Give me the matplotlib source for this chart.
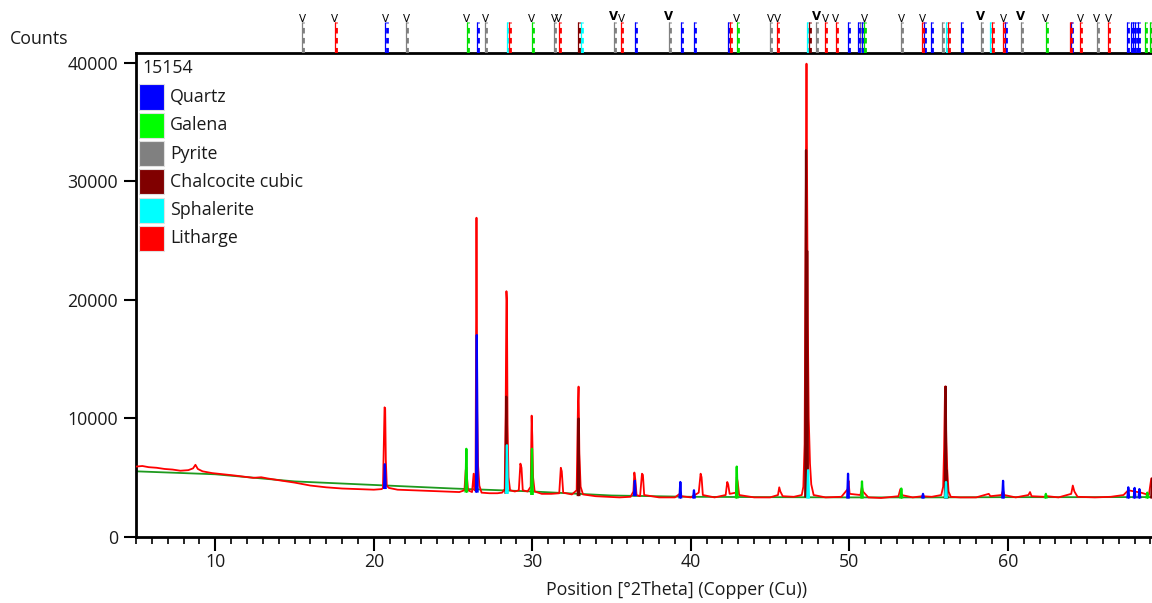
import matplotlib
matplotlib.use('Agg')
import matplotlib.pyplot as plt
from matplotlib.patches import Rectangle
from matplotlib.ticker import MultipleLocator

# ---------------- data ----------------
# measured scan (2theta, counts)
meas_points = [
    (5.0, 5900), (5.4, 5950), (5.8, 5850), (6.3, 5800), (6.8, 5700), (7.3, 5650), (7.8, 5550),
    (8.3, 5600), (8.6, 5750), (8.75, 6050), (8.9, 5700), (9.2, 5500), (9.8, 5350), (10.5, 5250),
    (11.2, 5150), (11.8, 5050), (12.4, 4950), (12.9, 5000), (13.3, 4900), (14.0, 4750), (15.0, 4550),
    (16.0, 4300), (17.0, 4150), (18.0, 4050), (19.0, 4000), (20.0, 3950), (20.5, 4000),
    (20.58, 4100), (20.64, 8000), (20.68, 10900), (20.72, 10800), (20.76, 6500), (20.82, 4300), (20.95, 4100),
    (21.5, 3950), (22.5, 3900), (23.5, 3850), (24.5, 3800), (25.4, 3750),
    (25.72, 3900), (25.80, 5600), (25.84, 5850), (25.88, 5000), (25.95, 3900),
    (26.2, 3750), (26.3, 5300), (26.36, 3900),
    (26.42, 4200), (26.46, 20000), (26.48, 26900), (26.50, 21000), (26.53, 10600), (26.58, 6000), (26.66, 4300), (26.8, 3700),
    (27.3, 3650), (27.8, 3650), (28.1, 3700),
    (28.26, 4000), (28.32, 10500), (28.37, 20700), (28.40, 19900), (28.44, 9500), (28.5, 5000), (28.6, 3900),
    (28.9, 3800), (29.15, 3900), (29.25, 6150), (29.32, 5800), (29.4, 3900),
    (29.7, 3800), (29.9, 4200), (29.96, 10200), (30.0, 8500), (30.05, 5000), (30.15, 3800),
    (30.6, 3600), (31.2, 3600), (31.7, 3650), (31.8, 5800), (31.86, 5500), (31.95, 3700),
    (32.5, 3550), (32.8, 3900), (32.88, 11000), (32.92, 12650), (32.97, 7000), (33.05, 4200), (33.2, 3550),
    (34.0, 3400), (34.8, 3350), (35.5, 3300), (36.2, 3350), (36.38, 3800), (36.44, 5400), (36.5, 4800), (36.58, 3500),
    (36.8, 3400), (36.92, 5300), (36.98, 5200), (37.06, 3500),
    (38.0, 3300), (39.0, 3300), (39.3, 3600), (39.4, 3400), (40.0, 3300), (40.5, 3700), (40.62, 5300),
    (40.68, 5000), (40.76, 3500), (41.5, 3300), (42.2, 3500), (42.3, 4600), (42.36, 4400), (42.45, 3600),
    (42.85, 3700), (42.9, 5000), (42.96, 4600), (43.05, 3500),
    (44.0, 3300), (45.0, 3300), (45.5, 3500), (45.58, 4150), (45.65, 3800), (45.8, 3400), (46.5, 3350), (47.0, 3500),
    (47.1, 4200), (47.18, 7800), (47.24, 25000), (47.27, 32600), (47.30, 39900), (47.34, 30000), (47.38, 18400),
    (47.44, 10000), (47.52, 6150), (47.6, 4400), (47.75, 3500),
    (48.5, 3300), (49.5, 3350), (49.9, 4000), (49.95, 4700), (50.02, 3600), (50.7, 3500), (50.8, 4200),
    (50.86, 3800), (51.2, 3300), (52.0, 3250), (53.1, 3400), (53.22, 4000), (53.3, 3500), (54.0, 3300),
    (54.6, 3400), (55.2, 3350), (55.8, 3500),
    (55.92, 4200), (55.98, 7400), (56.04, 12650), (56.08, 11000), (56.12, 7950), (56.18, 5600), (56.26, 3800), (56.4, 3350),
    (57.0, 3300), (58.0, 3300), (58.8, 3600), (58.9, 3400), (59.6, 3500), (59.7, 3900), (59.78, 3500),
    (60.5, 3300), (61.3, 3500), (61.4, 3750), (61.5, 3400), (62.3, 3350), (62.5, 3400), (63.2, 3300),
    (64.0, 3600), (64.1, 4300), (64.2, 3800), (64.4, 3350), (65.5, 3300), (66.5, 3350), (67.3, 3500),
    (67.6, 3900), (68.0, 3800), (68.4, 3700), (68.9, 3500), (69.05, 4900), (69.15, 4600), (69.3, 3500),
    (70.0, 3400), (72.0, 3400), (74.0, 3400),
]

# background line
bg_2theta = [5, 10, 15, 20, 25, 30, 35, 40, 45, 50, 55, 60, 65, 70, 74]
bg_counts = [5500, 5250, 4650, 4350, 4050, 3800, 3460, 3350, 3320, 3300, 3300, 3320, 3320, 3330, 3330]

# phase contributions: (position, base, top)
quartz_peaks = [(20.70, 4100, 6100), (26.50, 3800, 17000), (36.47, 3500, 4700), (39.34, 3300, 4600),
                (40.20, 3300, 3900), (49.92, 3300, 5300), (54.65, 3300, 3600), (59.70, 3300, 4700),
                (67.60, 3300, 4150), (68.00, 3300, 4100), (68.30, 3300, 4000)]
galena_peaks = [(25.84, 3800, 7400), (29.98, 3600, 7400), (42.90, 3300, 5900), (50.80, 3300, 4650),
                (53.28, 3300, 4050), (62.40, 3300, 3600), (68.80, 3300, 3700)]
chalcocite_peaks = [(28.36, 3700, 11800), (32.92, 3500, 9950), (47.27, 3400, 32600), (47.34, 3400, 24100),
                    (56.08, 3300, 12650), (56.14, 3300, 5600), (69.10, 3300, 4900)]
sphalerite_peaks = [(28.40, 3700, 7700), (47.40, 3300, 5600), (56.10, 3300, 4600)]

# reference stick positions in top strip: (position, V-mark 0/1/2)
ref_pyrite = [(15.49, 1), (22.05, 1), (27.03, 1), (31.37, 1), (35.15, 2), (38.60, 2), (45.02, 1),
              (47.92, 2), (50.68, 0), (53.28, 1), (55.85, 0), (58.28, 2), (60.81, 2), (65.60, 1)]
ref_litharge = [(17.53, 1), (28.53, 0), (31.68, 1), (35.61, 1), (42.49, 0), (45.46, 1), (48.49, 1),
                (49.14, 1), (54.60, 1), (56.23, 0), (59.00, 0), (59.70, 1), (63.90, 0), (64.57, 1), (66.32, 1)]
ref_quartz = [(20.74, 1), (26.53, 0), (36.46, 0), (39.36, 0), (40.20, 0), (42.35, 0), (49.92, 0),
              (50.55, 0), (50.80, 0), (54.71, 0), (55.17, 0), (57.07, 0), (59.80, 0), (63.97, 0),
              (67.54, 0), (67.75, 0), (67.90, 0), (68.05, 0), (68.20, 0)]
ref_galena = [(25.88, 1), (29.98, 1), (42.91, 1), (50.93, 1), (62.39, 1), (68.64, 0), (68.95, 0)]
ref_chalcocite = [(32.88, 0), (47.43, 0), (69.10, 0)]
ref_sphalerite = [(28.38, 0), (33.05, 0), (47.33, 0), (56.12, 0), (58.85, 0)]

legend_names = ["Quartz", "Galena", "Pyrite", "Chalcocite cubic", "Sphalerite", "Litharge"]
legend_colors = ["#0000ff", "#00ff00", "#808080", "#800000", "#00ffff", "#ff0000"]
sample_name = "15154"

y_ticks = [0, 10000, 20000, 30000, 40000]
x_ticks = [10, 20, 30, 40, 50, 60]

# ---------------- drawing ----------------
FONT = "Open Sans"
FS = 12.8
plt.rcParams['font.family'] = [FONT, 'DejaVu Sans']
TXT = '#1a1a1a'
W, H = 1152, 603
fig = plt.figure(figsize=(W / 100, H / 100), dpi=100)

XMIN, XMAX = 5.0, 73.26
ax = fig.add_axes([136 / W, 1 - 536.5 / H, (1218 - 136) / W, (536.5 - 52.5) / H])
ax.set_xlim(XMIN, XMAX)
ax.set_ylim(0, 40844)

# background
ax.plot(bg_2theta, bg_counts, color='#1f9a1f', lw=1.3, zorder=2)

# phase contributions
def spikes(peaks, color, z):
    for p, b, t in peaks:
        ax.plot([p - 0.05, p, p + 0.05], [b, t, b], color=color, lw=1.6, zorder=z)

spikes(quartz_peaks, '#0000ff', 4)
spikes(galena_peaks, '#00e000', 4)
spikes(sphalerite_peaks, '#00ffff', 5)

mx = [p[0] for p in meas_points]
my = [p[1] for p in meas_points]
ax.plot(mx, my, color='#ff0000', lw=1.3, zorder=3)
spikes(chalcocite_peaks, '#800000', 4)

for sp in ['left', 'bottom', 'top']:
    ax.spines[sp].set_linewidth(2.0)
    ax.spines[sp].set_color('black')
ax.spines['right'].set_visible(False)

ax.set_yticks(y_ticks)
ax.set_yticklabels([str(v) for v in y_ticks])
ax.set_xticks(x_ticks)
ax.set_xticklabels([str(v) for v in x_ticks])
ax.xaxis.set_minor_locator(MultipleLocator(1))
ax.tick_params(axis='y', which='major', length=9, width=1.5, pad=4, labelsize=FS, labelcolor=TXT)
ax.tick_params(axis='x', which='major', length=10, width=1.5, pad=2, labelsize=FS, labelcolor=TXT)
ax.tick_params(axis='x', which='minor', length=5, width=1.2)
ax.tick_params(top=False, right=False, which='both')

fig.text(677 / W, 1 - 590 / H, "Position [°2Theta] (Copper (Cu))", ha='center', va='center',
         fontsize=FS, color=TXT)
fig.text(10 / W, 1 - 39 / H, "Counts", ha='left', va='center', fontsize=FS, color=TXT)

# legend
fig.text(142 / W, 1 - 68 / H, sample_name, ha='left', va='center', fontsize=FS, color=TXT)
for i, (name, col) in enumerate(zip(legend_names, legend_colors)):
    yc = 97 + i * 28.3
    fig.patches.append(Rectangle((139 / W, 1 - (yc + 12.5) / H), 25 / W, 25 / H, transform=fig.transFigure,
                                 facecolor=col, edgecolor='#e0e0e0', lw=0.8))
    fig.text(170 / W, 1 - yc / H, name, ha='left', va='center', fontsize=FS, color=TXT)

# top reference strip
axt = fig.add_axes([136 / W, 1 - 52.5 / H, (1218 - 136) / W, 48 / H])
axt.set_xlim(XMIN, XMAX)
axt.set_ylim(0, 48)
axt.axis('off')

def sticks(refs, color):
    for p, v in refs:
        axt.plot([p, p], [0, 31], color=color, lw=0.9, solid_capstyle='butt')
        axt.plot([p + 0.07, p + 0.07], [0, 31], color=color, lw=2.0, linestyle=(0, (2, 1.6)))
        if v:
            axt.text(p, 29, "V", ha='center', va='bottom', fontsize=7.5 if v == 1 else 8.5,
                     fontweight='normal' if v == 1 else 'heavy', color='black',
                     family='DejaVu Sans')

sticks(ref_pyrite, '#808080')
sticks(ref_quartz, '#0000ff')
sticks(ref_galena, '#00e000')
sticks(ref_sphalerite, '#00ffff')
sticks(ref_chalcocite, '#800000')
sticks(ref_litharge, '#ff0000')

fig.savefig("out.png", dpi=100)
